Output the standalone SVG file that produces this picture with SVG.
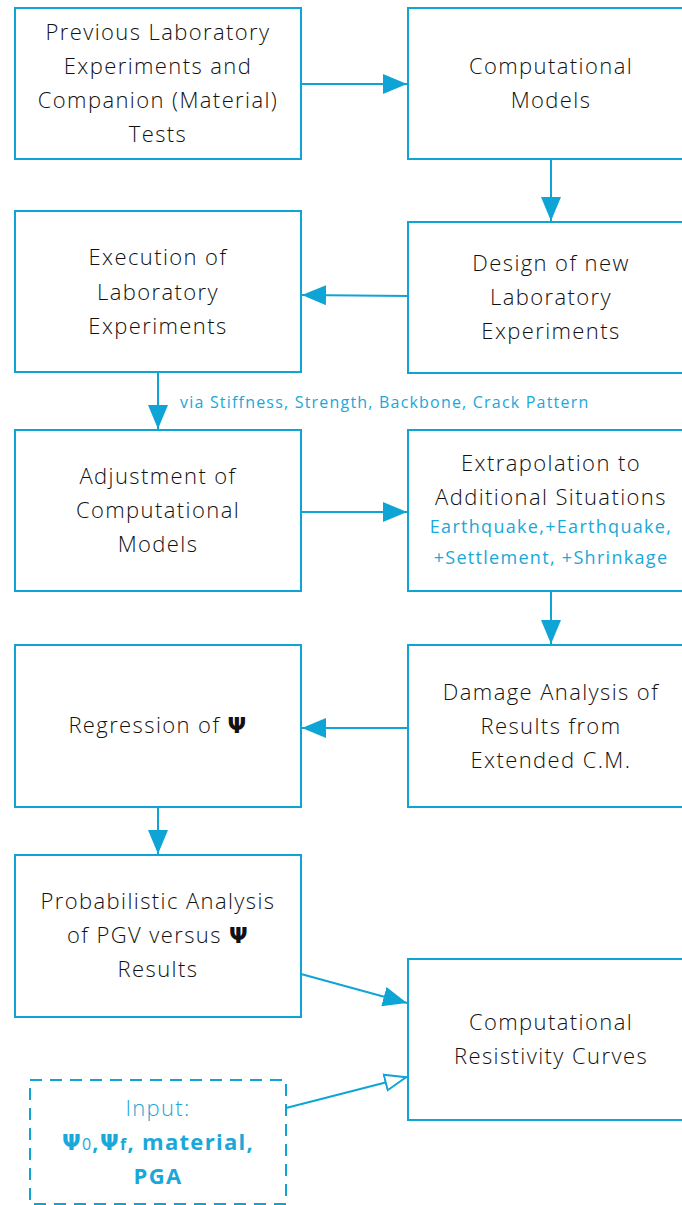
<svg xmlns="http://www.w3.org/2000/svg" width="682" height="1205" viewBox="0 0 682 1205">
  <style>
    .box { fill: #ffffff; stroke: #0fa4d6; stroke-width: 2; }
    .dash { fill: #ffffff; stroke: #0fa4d6; stroke-width: 2; stroke-dasharray: 12 8; }
    .t { font-family: "Open Sans", "Liberation Sans", sans-serif; font-size: 22px; fill: #111111; text-anchor: middle; font-weight: 300; letter-spacing: 1.4px; }
    .b { font-family: "Open Sans", "Liberation Sans", sans-serif; fill: #1aa7d9; text-anchor: middle; letter-spacing: 1.3px; }
    .lbl { font-family: "Open Sans", "Liberation Sans", sans-serif; font-size: 16px; fill: #1aa7d9; letter-spacing: 1.2px; }
    .c { fill: none; stroke: #0fa4d6; stroke-width: 2; }
    .psi { font-family: "DejaVu Sans", sans-serif; font-weight: bold; }
  </style>
  <defs>
    <marker id="arrow" viewBox="0 0 24 20" refX="24" refY="10" markerWidth="24" markerHeight="20" markerUnits="userSpaceOnUse" orient="auto">
      <path d="M0,0 L24,10 L0,20 z" fill="#0fa4d6"/>
    </marker>
    <marker id="arrow-open" viewBox="0 0 24 20" refX="23" refY="10" markerWidth="24" markerHeight="20" markerUnits="userSpaceOnUse" orient="auto">
      <path d="M1,2 L22,10 L1,18 z" fill="#ffffff" stroke="#0fa4d6" stroke-width="2"/>
    </marker>
  </defs>

  <!-- connectors -->
  <g id="connectors">
    <line class="c" x1="301" y1="84" x2="407" y2="84" marker-end="url(#arrow)"/>
    <line class="c" x1="551" y1="160" x2="551" y2="221" marker-end="url(#arrow)"/>
    <line class="c" x1="408" y1="296" x2="302" y2="295" marker-end="url(#arrow)"/>
    <line class="c" x1="158" y1="373" x2="158" y2="429" marker-end="url(#arrow)"/>
    <line class="c" x1="301" y1="512" x2="407" y2="512" marker-end="url(#arrow)"/>
    <line class="c" x1="551" y1="592" x2="551" y2="644" marker-end="url(#arrow)"/>
    <line class="c" x1="408" y1="728" x2="302" y2="728" marker-end="url(#arrow)"/>
    <line class="c" x1="158" y1="808" x2="158" y2="854" marker-end="url(#arrow)"/>
    <line class="c" x1="301" y1="974" x2="407" y2="1003" marker-end="url(#arrow)"/>
    <line class="c" x1="286" y1="1108" x2="407" y2="1077" marker-end="url(#arrow-open)"/>
    <text class="lbl" x="180" y="408">via Stiffness, Strength, Backbone, Crack Pattern</text>
  </g>

  <g id="previous-experiments">
    <rect class="box" x="15" y="8" width="286" height="151"/>
    <text class="t" x="158" y="40">Previous Laboratory</text>
    <text class="t" x="158" y="74">Experiments and</text>
    <text class="t" x="158" y="108">Companion (Material)</text>
    <text class="t" x="158" y="142">Tests</text>
  </g>

  <g id="computational-models">
    <rect class="box" x="408" y="8" width="286" height="151"/>
    <text class="t" x="551" y="74">Computational</text>
    <text class="t" x="551" y="108">Models</text>
  </g>

  <g id="execution">
    <rect class="box" x="15" y="211" width="286" height="161"/>
    <text class="t" x="158" y="265">Execution of</text>
    <text class="t" x="158" y="300">Laboratory</text>
    <text class="t" x="158" y="334">Experiments</text>
  </g>

  <g id="design">
    <rect class="box" x="408" y="222" width="286" height="151"/>
    <text class="t" x="551" y="271">Design of new</text>
    <text class="t" x="551" y="305">Laboratory</text>
    <text class="t" x="551" y="339">Experiments</text>
  </g>

  <g id="adjustment">
    <rect class="box" x="15" y="430" width="286" height="161"/>
    <text class="t" x="158" y="484">Adjustment of</text>
    <text class="t" x="158" y="518">Computational</text>
    <text class="t" x="158" y="552">Models</text>
  </g>

  <g id="extrapolation">
    <rect class="box" x="408" y="430" width="286" height="161"/>
    <text class="t" x="551" y="471">Extrapolation to</text>
    <text class="t" x="551" y="505">Additional Situations</text>
    <text class="b" x="551" y="533" font-size="18">Earthquake,+Earthquake,</text>
    <text class="b" x="551" y="564" font-size="18">+Settlement, +Shrinkage</text>
  </g>

  <g id="regression">
    <rect class="box" x="15" y="645" width="286" height="162"/>
    <text class="t" x="158" y="733">Regression of <tspan class="psi">Ψ</tspan></text>
  </g>

  <g id="damage-analysis">
    <rect class="box" x="408" y="645" width="286" height="162"/>
    <text class="t" x="551" y="700">Damage Analysis of</text>
    <text class="t" x="551" y="734">Results from</text>
    <text class="t" x="551" y="768">Extended C.M.</text>
  </g>

  <g id="probabilistic-analysis">
    <rect class="box" x="15" y="855" width="286" height="162"/>
    <text class="t" x="158" y="909">Probabilistic Analysis</text>
    <text class="t" x="158" y="943">of PGV versus <tspan class="psi">Ψ</tspan></text>
    <text class="t" x="158" y="977">Results</text>
  </g>

  <g id="resistivity-curves">
    <rect class="box" x="408" y="959" width="286" height="161"/>
    <text class="t" x="551" y="1030">Computational</text>
    <text class="t" x="551" y="1064">Resistivity Curves</text>
  </g>

  <g id="input">
    <rect class="dash" x="30" y="1080" width="256" height="124"/>
    <text class="b" x="158" y="1116" font-size="22" font-weight="300">Input:</text>
    <text class="b" x="158" y="1150" font-size="22" font-weight="bold" letter-spacing="1px"><tspan class="psi">Ψ</tspan><tspan font-size="16" font-weight="normal">0</tspan>,<tspan class="psi">Ψ</tspan><tspan font-size="16">f</tspan>, material,</text>
    <text class="b" x="158" y="1184" font-size="22" font-weight="bold" letter-spacing="1px">PGA</text>
  </g>
</svg>
